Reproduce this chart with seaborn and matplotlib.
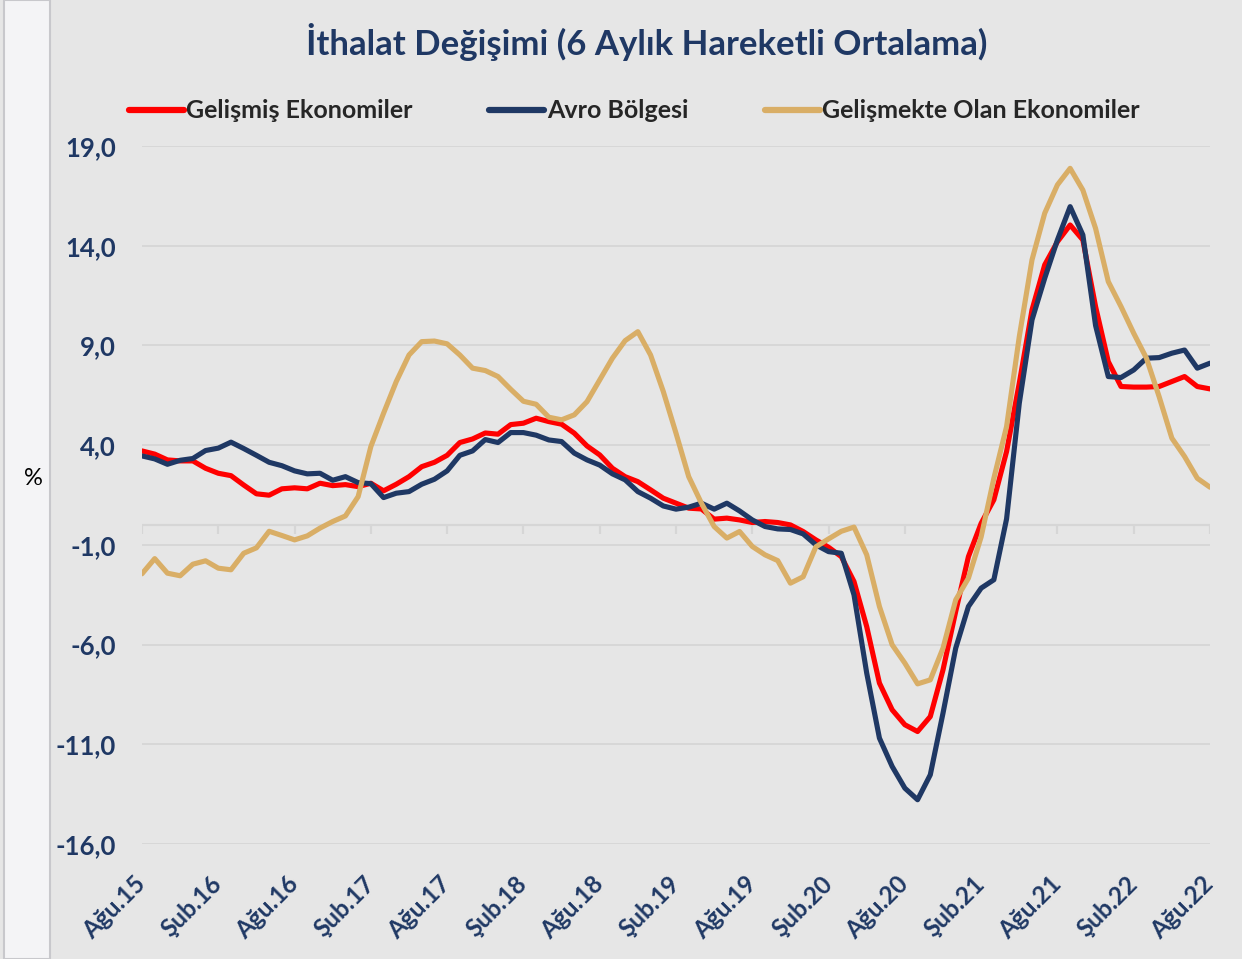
import matplotlib
matplotlib.use("Agg")
import matplotlib.pyplot as plt
from matplotlib.patches import Rectangle
from matplotlib.ticker import FuncFormatter
import numpy as np
import pandas as pd
import seaborn as sns

# Aylik veriler: Ağustos 2015 - Ağustos 2022 (6 aylik hareketli ortalama, %)
DATES = pd.date_range("2015-08-01", "2022-08-01", freq="MS")

gelismis = [
    3.71, 3.55, 3.26, 3.21, 3.21, 2.84, 2.59, 2.47, 2.00, 1.56,
    1.49, 1.81, 1.86, 1.81, 2.09, 1.97, 2.02, 1.92, 2.09, 1.71,
    2.04, 2.42, 2.92, 3.14, 3.49, 4.13, 4.31, 4.61, 4.55, 5.03,
    5.10, 5.35, 5.18, 5.05, 4.60, 3.96, 3.51, 2.84, 2.42, 2.17,
    1.76, 1.34, 1.09, 0.84, 0.80, 0.29, 0.34, 0.25, 0.12, 0.17,
    0.12, 0.00, -0.33, -0.75, -1.12, -1.59, -2.84, -5.10, -7.93, -9.27,
    -10.02, -10.36, -9.61, -7.27, -4.34, -1.59, 0.08, 1.26, 3.68, 7.11,
    10.78, 13.04, 14.20, 15.04, 14.29, 10.95, 8.19, 6.94, 6.91, 6.91,
    6.94, 7.19, 7.44, 6.94, 6.82,
]
avro = [
    3.46, 3.31, 3.04, 3.24, 3.33, 3.73, 3.85, 4.15, 3.83, 3.49,
    3.14, 2.97, 2.71, 2.56, 2.59, 2.24, 2.42, 2.12, 2.07, 1.37,
    1.59, 1.67, 2.04, 2.29, 2.71, 3.49, 3.71, 4.28, 4.13, 4.63,
    4.63, 4.50, 4.26, 4.18, 3.60, 3.26, 3.00, 2.56, 2.26, 1.67,
    1.34, 0.95, 0.79, 0.89, 1.09, 0.79, 1.09, 0.70, 0.25, -0.08,
    -0.20, -0.23, -0.45, -1.00, -1.34, -1.42, -3.51, -7.43, -10.69, -12.11,
    -13.20, -13.78, -12.53, -9.44, -6.18, -4.09, -3.17, -2.75, 0.30, 6.10,
    10.28, 12.37, 14.29, 15.96, 14.54, 10.00, 7.44, 7.39, 7.77, 8.36,
    8.39, 8.61, 8.77, 7.86, 8.11,
]
gelismekte = [
    -2.45, -1.69, -2.42, -2.55, -1.97, -1.80, -2.17, -2.25, -1.42, -1.15,
    -0.32, -0.53, -0.75, -0.55, -0.16, 0.17, 0.45, 1.42, 3.93, 5.60,
    7.19, 8.52, 9.19, 9.22, 9.08, 8.52, 7.86, 7.74, 7.44, 6.80,
    6.20, 6.05, 5.40, 5.27, 5.52, 6.18, 7.27, 8.36, 9.24, 9.69,
    8.52, 6.69, 4.60, 2.42, 1.09, -0.08, -0.66, -0.33, -1.08, -1.50,
    -1.79, -2.92, -2.60, -1.10, -0.70, -0.32, -0.11, -1.50, -4.09, -6.01,
    -6.93, -7.97, -7.77, -6.18, -3.76, -2.67, -0.60, 2.34, 4.93, 9.44,
    13.29, 15.63, 17.05, 17.88, 16.79, 14.87, 12.20, 10.95, 9.61, 8.36,
    6.43, 4.35, 3.43, 2.34, 1.89,
]

SERIES = ["Gelişmiş Ekonomiler", "Avro Bölgesi", "Gelişmekte Olan Ekonomiler"]
COLORS = ["#ff0000", "#1f3864", "#d9ae66"]
TICK_LABELS = ["Ağu.15", "Şub.16", "Ağu.16", "Şub.17", "Ağu.17", "Şub.18", "Ağu.18",
               "Şub.19", "Ağu.19", "Şub.20", "Ağu.20", "Şub.21", "Ağu.21", "Şub.22", "Ağu.22"]
Y_TICKS = [-16, -11, -6, -1, 4, 9, 14, 19]

NAVY = "#1f3864"
BG = "#e6e6e6"
GRID = "#d6d6d6"

df = pd.DataFrame({"tarih": DATES, SERIES[0]: gelismis, SERIES[1]: avro, SERIES[2]: gelismekte})
df["pos"] = np.arange(len(df))  # excel style category axis
long = df.melt(id_vars=["tarih", "pos"], value_vars=SERIES, var_name="seri", value_name="deger")

sns.set_theme(style="white")
plt.rcParams["font.family"] = ["Lato", "DejaVu Sans"]

fig = plt.figure(figsize=(12.42, 9.59), dpi=100, facecolor=BG)
ax = fig.add_axes([142 / 1242, 1 - 844 / 959, 1068 / 1242, 698 / 959])
ax.set_facecolor(BG)

# left decorative strip of the slide (drawn under everything)
fig.patches.append(Rectangle((0.003, 0), 0.037, 1, transform=fig.transFigure,
                             facecolor="#f4f4f6", edgecolor="#c8c8cc", lw=1.5, zorder=-1))

sns.lineplot(data=long, x="pos", y="deger", hue="seri", hue_order=SERIES,
             palette=COLORS, linewidth=3.7, ax=ax, legend=True)

ax.set_xlim(0, len(df) - 1)
ax.set_ylim(min(Y_TICKS), max(Y_TICKS))
ax.set_yticks(Y_TICKS)
ax.yaxis.set_major_formatter(FuncFormatter(lambda v, _: f"{v:.1f}".replace(".", ",")))
ax.grid(axis="y", color=GRID, lw=1.3)
ax.set_axisbelow(True)
for s in ax.spines.values():
    s.set_visible(False)

xt = df["pos"].values[::6]
ax.set_xticks(xt)
ax.set_xticklabels(TICK_LABELS, rotation=45, ha="right", va="center", rotation_mode="anchor")
ax.tick_params(axis="x", length=0, pad=26, labelsize=17.5, labelcolor=NAVY)
ax.tick_params(axis="y", length=0, pad=19, labelsize=18.5, labelcolor=NAVY)
for lab in ax.get_xticklabels() + ax.get_yticklabels():
    lab.set_fontweight("bold")

# horizontal axis crosses at zero with tick marks hanging down
ax.axhline(0, color=GRID, lw=1.6, zorder=0.5)
ax.vlines(xt, -0.45, 0, color=GRID, lw=1.6, zorder=0.5)

ax.set_xlabel("")
ax.set_ylabel("%", rotation=0, fontsize=17, color="black", va="center", ha="center")
ax.yaxis.set_label_coords(-0.102, 0.524)

handles, labels = ax.get_legend_handles_labels()
ax.get_legend().remove()
for h in handles:
    h.set_linewidth(4.5)
    h.set_solid_capstyle("round")
fig.legend(handles, labels, loc="center left", bbox_to_anchor=(129 / 1242, 1 - 111 / 959),
           ncol=3, frameon=False, borderpad=0, borderaxespad=0, handlelength=2.2,
           handletextpad=0.1, columnspacing=3.05, prop={"weight": "bold", "size": 18})

fig.text(647 / 1242, 1 - 42 / 959, "İthalat Değişimi (6 Aylık Hareketli Ortalama)",
         ha="center", va="center", fontsize=25, fontweight="bold", color=NAVY)

fig.savefig("out.png", dpi=100, facecolor=BG)
